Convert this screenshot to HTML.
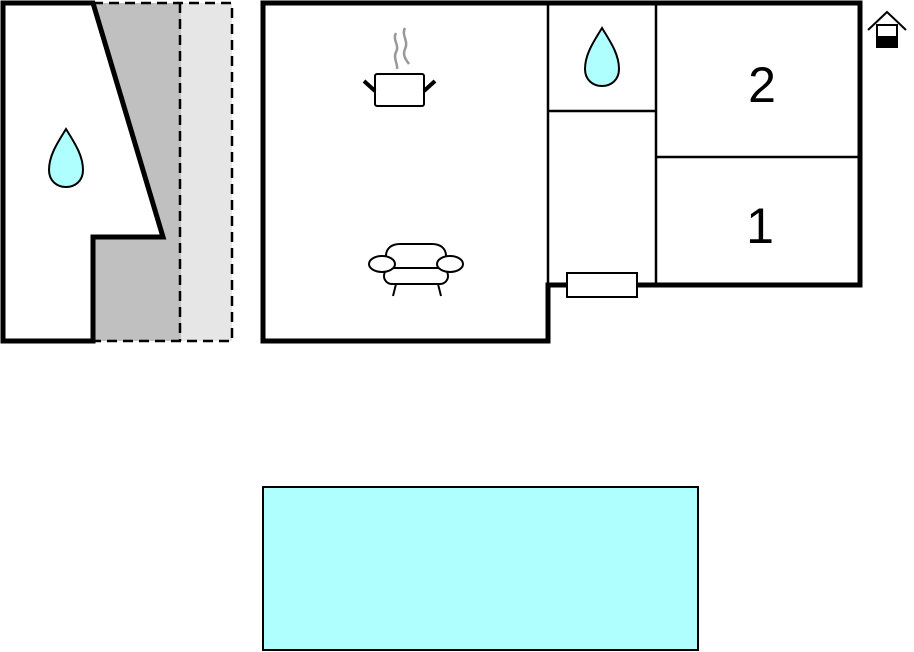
<!DOCTYPE html>
<html><head><style>body{margin:0;background:#fff}svg{display:block}</style></head><body>
<svg width="914" height="652" viewBox="0 0 914 652" xmlns="http://www.w3.org/2000/svg">
<rect x="93" y="3" width="88" height="338" fill="#c0c0c0"/>
<rect x="181" y="3" width="51" height="338" fill="#e6e6e6"/>
<rect x="93" y="3" width="139" height="338" fill="none" stroke="#000" stroke-width="2.5" stroke-dasharray="10,6"/>
<line x1="180" y1="3" x2="180" y2="341" stroke="#000" stroke-width="2.5" stroke-dasharray="10,6"/>
<polygon points="3,3 93,3 163,237 93,237 93,341 3,341" fill="#fff" stroke="#000" stroke-width="5"/>
<path d="M66,129 C58,142 49,155 49,170 C49,181 57,187 66,187 C75,187 83,181 83,170 C83,155 74,142 66,129 Z" fill="#b0ffff" stroke="#000" stroke-width="2"/>
<polygon points="263,3 860,3 860,285 548,285 548,341 263,341" fill="#fff" stroke="#000" stroke-width="5"/>
<g stroke="#000" stroke-width="2.5">
<line x1="548" y1="3" x2="548" y2="285"/>
<line x1="656" y1="3" x2="656" y2="285"/>
<line x1="548" y1="111" x2="656" y2="111"/>
<line x1="656" y1="157" x2="860" y2="157"/>
</g>
<rect x="567" y="273" width="70" height="24" fill="#fff" stroke="#000" stroke-width="2"/>
<path d="M602,28 C594,41 585,54 585,69 C585,80 593,86 602,86 C611,86 619,80 619,69 C619,54 610,41 602,28 Z" fill="#b0ffff" stroke="#000" stroke-width="2"/>
<text x="762" y="102" font-family="Liberation Sans, sans-serif" font-size="50" text-anchor="middle">2</text>
<text x="760" y="243" font-family="Liberation Sans, sans-serif" font-size="50" text-anchor="middle">1</text>
<g fill="none" stroke="#999" stroke-width="2.5">
<path d="M396,33 C392,40 400,45 396,52 C393,58 398,64 397,69"/>
<path d="M405,28 C401,35 409,41 405,49 C402,56 407,61 409,64"/>
</g>
<rect x="375" y="74" width="49" height="32" rx="2" fill="#fff" stroke="#000" stroke-width="2"/>
<line x1="364" y1="81" x2="375" y2="91" stroke="#000" stroke-width="4"/>
<line x1="435" y1="81" x2="424" y2="91" stroke="#000" stroke-width="4"/>
<g fill="#fff" stroke="#000" stroke-width="2">
<path d="M386,268 L386,256 C386,248 392,244 400,244 L432,244 C440,244 446,248 446,256 L446,268"/>
<rect x="384" y="268" width="64" height="16" rx="8"/>
<ellipse cx="382" cy="264" rx="13" ry="8"/>
<ellipse cx="450" cy="264" rx="13" ry="8"/>
<line x1="396" y1="284" x2="393" y2="296"/>
<line x1="438" y1="284" x2="441" y2="296"/>
</g>
<polyline points="868,30 887,12 906,30" fill="none" stroke="#000" stroke-width="2"/>
<rect x="877" y="25" width="20" height="22" fill="#fff" stroke="#000" stroke-width="2"/>
<rect x="877" y="36" width="20" height="11" fill="#000"/>
<rect x="263" y="487" width="435" height="163" fill="#b0ffff" stroke="#000" stroke-width="2"/>
</svg>
</body></html>
